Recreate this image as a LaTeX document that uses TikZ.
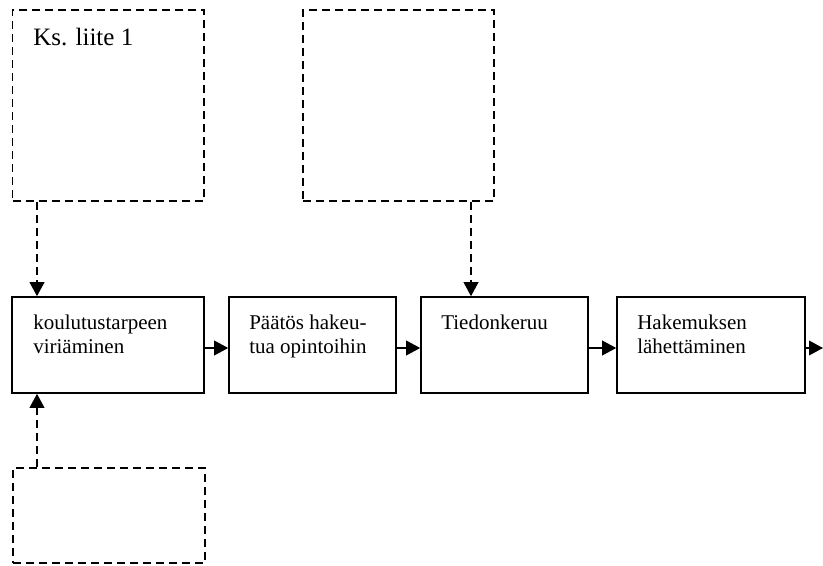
\documentclass[tikz,border=0pt]{standalone}
\usepackage{fontspec}
\setmainfont{Liberation Serif}
\usetikzlibrary{arrows.meta}
\begin{document}
\begin{tikzpicture}[x=0.75pt,y=-0.75pt,
  stage/.style={draw=black,line width=1.2pt,rectangle,inner sep=0pt,minimum height=72pt},
  source/.style={draw=black,line width=1.2pt,dash pattern=on 6pt off 3.75pt,rectangle,inner sep=0pt},
  label/.style={anchor=base west,inner sep=0pt,align=left,font=\fontsize{15.75}{18}\selectfont},
  flow/.style={line width=1.2pt,-{Triangle[length=10.5pt,width=11pt]}},
  feed/.style={flow,dash pattern=on 6pt off 3.75pt}]
\useasboundingbox (0,0) rectangle (823,566);

% dashed source boxes
\node[source,minimum width=143.5pt,minimum height=143.25pt] (s1) at (108.3,105.5) {};
\node[source,minimum width=143.25pt,minimum height=143.25pt] (s2) at (398.5,105.5) {};
\node[source,minimum width=144pt,minimum height=71.25pt] (s3) at (108.8,515.5) {};
\node[anchor=base west,inner sep=0pt,font=\fontsize{18.75}{22}\selectfont] (s1t) at (33,46) {Ks. liite 1};

% process stages
\node[stage,minimum width=144pt] (b1) at (108,345) {};
\node[stage,minimum width=125.25pt] (b2) at (312.5,345) {};
\node[stage,minimum width=125.25pt] (b3) at (504.5,345) {};
\node[stage,minimum width=141pt] (b4) at (711,345) {};

% stage texts (a two-line node sits on the baseline of its last line)
\node[label] (t1) at (33,353) {koulutustarpeen\\viriäminen};
\node[label] (t2) at (249,353) {Päätös hakeu-\\tua opintoihin};
\node[label] (t3) at (441,329) {Tiedonkeruu};
\node[label] (t4) at (637,353) {Hakemuksen\\lähettäminen};

% main flow
\coordinate (e) at (823,348);
\draw[flow] (b1.east |- e) -- (b2.west |- e);
\draw[flow] (b2.east |- e) -- (b3.west |- e);
\draw[flow] (b3.east |- e) -- (b4.west |- e);
\draw[flow] (b4.east |- e) -- (e);

% inputs from the dashed boxes
\coordinate (x1) at (37,0);
\coordinate (x2) at (471,0);
\draw[feed] (s1.south -| x1) -- (b1.north -| x1);
\draw[feed] (s3.north -| x1) -- (b1.south -| x1);
\draw[feed] (s2.south -| x2) -- (b3.north -| x2);
\end{tikzpicture}
\end{document}
